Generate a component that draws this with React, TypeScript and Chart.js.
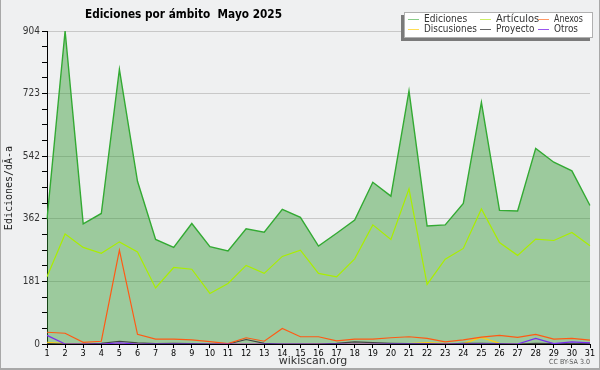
import React, { useEffect, useRef } from "react";
import { Chart, registerables } from "chart.js";

Chart.register(...registerables);

const days = Array.from({ length: 31 }, (_, i) => String(i + 1));
const ediciones = [360, 904, 347, 377, 793, 470, 302, 279, 348, 281, 269, 333, 323, 389, 366, 283, 320, 358, 467, 427, 731, 341, 344, 406, 698, 386, 384, 565, 525, 500, 400];
const articulos = [194, 318, 279, 262, 295, 266, 162, 221, 216, 146, 175, 227, 204, 253, 271, 204, 194, 246, 344, 302, 448, 172, 245, 276, 390, 293, 256, 303, 299, 322, 284];
const anexos = [34, 31, 5, 8, 271, 28, 14, 14, 12, 7, 1, 18, 8, 45, 21, 21, 9, 14, 14, 18, 21, 16, 6, 12, 20, 25, 19, 28, 14, 16, 11];
const discusiones = [5, 1, 1, 1, 0, 0, 0, 0, 0, 0, 0, 0, 0, 0, 0, 1, 0, 0, 0, 0, 1, 4, 1, 1, 19, 2, 0, 0, 0, 1, 0];
const proyecto = [1, 0, 0, 2, 8, 3, 1, 2, 1, 0, 0, 13, 2, 0, 0, 0, 2, 6, 4, 2, 1, 1, 0, 2, 2, 1, 0, 2, 1, 1, 2];
const otros = [25, 0, 0, 0, 3, 0, 0, 0, 0, 0, 0, 0, 0, 0, 0, 0, 0, 0, 0, 0, 0, 0, 0, 0, 0, 0, 0, 16, 1, 6, 3];
const yTickLabels = ["0", "181", "362", "542", "723", "904"];
const yMax = 904;

const FONT = "'DejaVu Sans', sans-serif";
const COND = "'DejaVu Sans Condensed', 'DejaVu Sans', sans-serif";
const MONO = "'DejaVu Sans Mono', monospace";

const decorPlugin = {
  id: "decor",
  beforeDraw(chart: any) {
    const { ctx, width, height } = chart;
    ctx.save();
    ctx.fillStyle = "#eff0f1";
    ctx.fillRect(0, 0, width, height);
    ctx.restore();
  },
  afterDraw(chart: any) {
    const { ctx, width, height } = chart;
    ctx.save();
    // outer border
    ctx.fillStyle = "#a8a8a8";
    ctx.fillRect(0, 0, 1, height);
    ctx.fillRect(0, height - 2, width, 2);
    ctx.fillRect(width - 1, 0, 1, height);
    // title
    ctx.fillStyle = "#000";
    ctx.font = `bold 13px ${FONT}`;
    ctx.textAlign = "center";
    ctx.textBaseline = "middle";
    ctx.fillText("Ediciones por ámbito  Mayo 2025", 183.5, 15, 197);
    // y title
    ctx.save();
    ctx.translate(9, 188);
    ctx.rotate(-Math.PI / 2);
    ctx.font = `10px ${MONO}`;
    ctx.fillStyle = "#222";
    ctx.fillText("Ediciones/dÃ-a", 0, 0);
    ctx.restore();
    // footer
    ctx.font = `11px ${FONT}`;
    ctx.fillStyle = "#333";
    ctx.fillText("wikiscan.org", 313, 361, 72);
    ctx.font = `7px ${FONT}`;
    ctx.fillStyle = "#555";
    ctx.textAlign = "right";
    ctx.fillText("CC BY-SA 3.0", 590, 362, 41);
    // legend
    const bx = 404, by = 12, bw = 189, bh = 26;
    ctx.fillStyle = "#7a7a7a";
    ctx.fillRect(bx - 3, by + 3, bw, bh);
    ctx.fillStyle = "#ffffff";
    ctx.fillRect(bx, by, bw, bh);
    ctx.strokeStyle = "#b0b0b0";
    ctx.lineWidth = 1;
    ctx.strokeRect(bx + 0.5, by + 0.5, bw - 1, bh - 1);
    const cols = [408, 480, 538];
    const rows = [19, 29];
    ctx.font = `10px ${FONT}`;
    ctx.textAlign = "left";
    ctx.textBaseline = "middle";
    chart.data.datasets.forEach((ds: any, i: number) => {
      const cx = cols[i % 3];
      const cy = rows[Math.floor(i / 3)];
      ctx.strokeStyle = ds.legendColor;
      ctx.lineWidth = 1;
      ctx.beginPath();
      ctx.moveTo(cx, cy + 0.5);
      ctx.lineTo(cx + 11, cy + 0.5);
      ctx.stroke();
      ctx.fillStyle = "#333";
      ctx.fillText(ds.label, cx + 16, cy, ds.label.length * 4.8);
    });
    ctx.restore();
  },
};

export default function App() {
  const ref = useRef<HTMLCanvasElement | null>(null);
  useEffect(() => {
    document.body.style.margin = "0";
    const canvas = ref.current!;
    const mk = (label: string, data: number[], color: string, order: number, extra: any = {}) => ({
      label,
      data,
      borderColor: color,
      legendColor: color,
      borderWidth: 1.2,
      pointRadius: 0,
      tension: 0,
      fill: false,
      order,
      ...extra,
    });
    const chart = new Chart(canvas, {
      type: "line",
      data: {
        labels: days,
        datasets: [
          mk("Ediciones", ediciones, "#33aa33", 10, {
            fill: "origin",
            backgroundColor: "rgba(51,153,51,0.44)",
            legendColor: "#88cc88",
            borderWidth: 1.4,
          }),
          mk("Artículos", articulos, "#aaee00", 9, { legendColor: "#ccee66" }),
          mk("Anexos", anexos, "#ff5a14", 5, { legendColor: "#ff9966" }),
          mk("Discusiones", discusiones, "#ffcc11", 7, { legendColor: "#ffdd55" }),
          mk("Proyecto", proyecto, "#444444", 6, { legendColor: "#666666" }),
          mk("Otros", otros, "#7a2cf0", 4, { legendColor: "#9955ee" }),
        ],
      } as any,
      options: {
        animation: false,
        responsive: false,
        devicePixelRatio: 1,
        layout: { padding: { top: 31, right: 10, bottom: 0, left: 0 } },
        plugins: { legend: { display: false }, tooltip: { enabled: false }, title: { display: false } },
        scales: {
          x: {
            offset: false,
            afterFit: (s: any) => {
              s.height = 26;
            },
            grid: { drawOnChartArea: false, drawTicks: true, tickLength: 4, tickColor: "#000" },
            border: { display: true, color: "#000", width: 1 },
            ticks: {
              autoSkip: false,
              maxRotation: 0,
              padding: 0,
              color: "#000",
              font: { family: COND, size: 9 },
            },
          },
          y: {
            min: 0,
            max: yMax,
            afterFit: (s: any) => {
              s.width = 47;
            },
            afterBuildTicks: (s: any) => {
              const step = yMax / ((yTickLabels.length - 1) * 4);
              s.ticks = Array.from({ length: (yTickLabels.length - 1) * 4 + 1 }, (_, i) => ({ value: i * step }));
            },
            grid: {
              drawOnChartArea: true,
              drawTicks: true,
              tickLength: 5,
              tickColor: "#000",
              color: (c: any) => (c.index % 4 === 0 && c.index > 0 ? "#c8c8c8" : "rgba(0,0,0,0)"),
            },
            border: { display: true, color: "#000", width: 1 },
            ticks: {
              autoSkip: false,
              padding: 2,
              color: "#333",
              font: { family: COND, size: 10 },
              callback: (_v: any, i: number) => (i % 4 === 0 ? yTickLabels[i / 4] : ""),
            },
          },
        },
      },
      plugins: [decorPlugin],
    } as any);
    return () => chart.destroy();
  }, []);
  return (
    <div style={{ width: 600, height: 370 }}>
      <canvas ref={ref} width={600} height={370} style={{ display: "block" }} />
    </div>
  );
}
